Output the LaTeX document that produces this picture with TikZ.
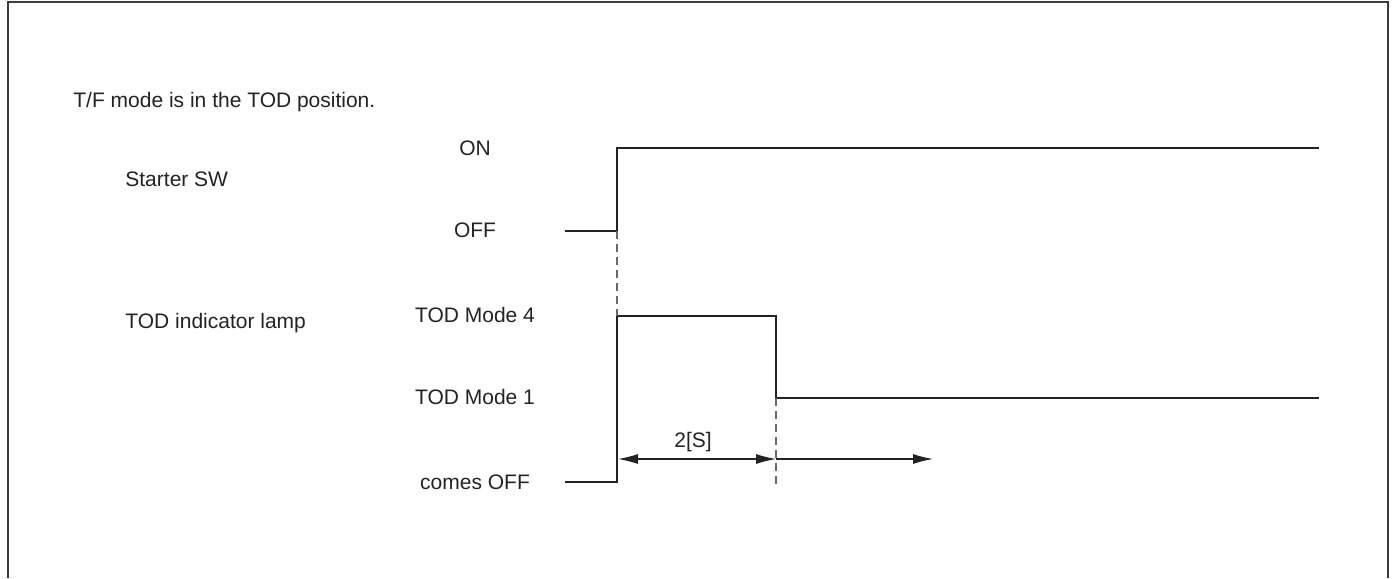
\documentclass[tikz,border=0pt]{standalone}
\usepackage{fontspec}
\setmainfont{Liberation Sans}
\usetikzlibrary{arrows.meta,positioning}
\definecolor{lineblack}{RGB}{35,35,35}
\definecolor{framegray}{RGB}{60,60,60}
\definecolor{dashgray}{RGB}{105,105,105}

\begin{document}
\begin{tikzpicture}[x=0.5pt,y=-0.5pt,
    signal/.style={line width=1pt,lineblack},
    frameline/.style={line width=1pt,framegray},
    guide/.style={dash pattern=on 4pt off 2.5pt,line width=0.6pt,dashgray},
    dim/.style={{Latex[length=10pt,width=5pt]}-{Latex[length=10pt,width=5pt]},line width=0.55pt,lineblack},
    dimend/.style={-{Latex[length=10pt,width=5pt]},line width=0.55pt,lineblack},
    txt/.style={font=\fontsize{10.5}{12}\selectfont,inner sep=0pt,lineblack},
  ]
    \useasboundingbox (0,0) rectangle (1396,578);

    %────────── FRAME ──────────────
    \draw[frameline] (8,578) -- (8,2) -- (1388,2) -- (1388,578);

    %────────── TITLE ──────────────
    \node[txt,anchor=base west] (title) at (73,107) {T/F mode is in the TOD position.};

    %────────── STARTER SW ─────────
    \node[txt,anchor=base west] (sw) at (125,186) {Starter SW};
    \node[txt,anchor=base] (swon) at (475,155.5) {ON};
    \node[txt,anchor=base] (swoff) at (475,237.5) {OFF};
    \coordinate (swa) at (565,231);
    \coordinate (swb) at (617,231);
    \coordinate (swc) at (617,148);
    \coordinate (swd) at (1319,148);
    \draw[signal] (swa) -- (swb) -- (swc) -- (swd);

    %────────── TOD LAMP ───────────
    \node[txt,anchor=base west] (lamp) at (125,328) {TOD indicator lamp};
    \node[txt,anchor=base] (mfour) at (475,322.5) {TOD Mode 4};
    \node[txt,anchor=base] (mone) at (475,404) {TOD Mode 1};
    \node[txt,anchor=base] (lampoff) at (475,489) {comes OFF};
    \coordinate (la) at (565,482);
    \coordinate (lb) at (617,482);
    \coordinate (lc) at (617,316);
    \coordinate (ld) at (776,316);
    \coordinate (le) at (776,398);
    \coordinate (lf) at (1319,398);
    \draw[signal] (la) -- (lb) -- (lc) -- (ld) -- (le) -- (lf);

    %────────── GUIDES ─────────────
    \coordinate (lg) at (776,485);
    \draw[guide] (swb) -- (lc);
    \draw[guide] (le) -- (lg);

    %────────── TIMING ─────────────
    \coordinate (ta) at (618,459);
    \coordinate (tb) at (776,459);
    \coordinate (tc) at (933,459);
    \draw[dim] (ta) -- (tb);
    \draw[dimend] (tb) -- (tc);
    \node[txt,anchor=base] (delay) at (693,447) {2[S]};
  \end{tikzpicture}
\end{document}
